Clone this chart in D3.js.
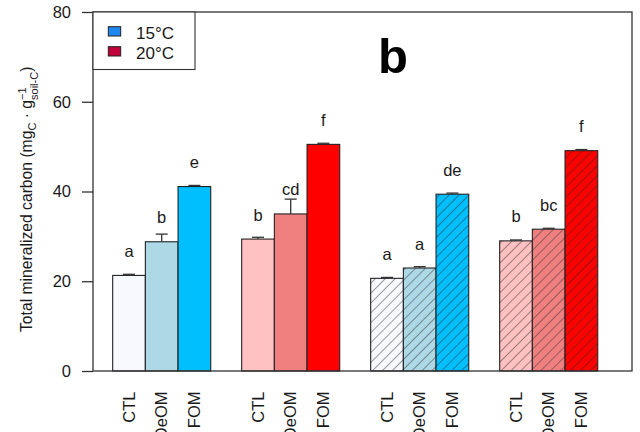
<!DOCTYPE html>
<html><head><meta charset="utf-8">
<script src="https://cdn.jsdelivr.net/npm/d3@7"></script>
<style>body{margin:0;background:#fff}svg{display:block;font-family:"Liberation Sans",Arial,sans-serif}</style>
</head><body><svg id="c" width="640" height="432"></svg>
<script>
// ---- data ----
const groups = ["plain15","plain20","hatch15","hatch20"];
const hatched = [false,false,true,true];
const treatments = ["CTL","DeOM","FOM"];
const means = [[21.3,28.8,41.1],[29.4,35.0,50.5],[20.65,22.95,39.4],[29.0,31.6,49.1]];
const errs  = [[0.25,1.7,0.25],[0.4,3.3,0.25],[0.2,0.3,0.25],[0.2,0.2,0.25]];
const letters = [["a","b","e"],["b","cd","f"],["a","a","de"],["b","bc","f"]];
const barColors = [["#F8F8FF","#ADD8E6","#00BFFF"],["#FFC1C1","#F08080","#FF0000"],["#F8F8FF","#ADD8E6","#00BFFF"],["#FFC1C1","#F08080","#FF0000"]];
const legendLabels = ["15°C","20°C"];
const legendColors = ["#1E88F0","#C4003A"];
const yTicks = [0,20,40,60,80];
const panelLabel = "b";

// ---- layout ----
const svg = d3.select("#c");
const L = 93, R = 632, T = 12, B = 371;
const axisCol = "#333";
const y = d3.scaleLinear().domain([0,80]).range([B,T]);
const xg = d3.scaleBand().domain(groups).range([97.2, 613.2]).paddingInner(0.24).paddingOuter(0.12);
const xb = d3.scaleBand().domain(treatments).range([0, xg.bandwidth()]).padding(0);

const defs = svg.append("defs");
const pat = defs.append("pattern").attr("id","hatch").attr("patternUnits","userSpaceOnUse")
  .attr("width",7).attr("height",7).attr("patternTransform","rotate(45)");
pat.append("line").attr("x1",0).attr("y1",0).attr("x2",0).attr("y2",7)
  .attr("stroke","#2a2a2a").attr("stroke-width",1.1).attr("stroke-opacity",0.85);

// bars
groups.forEach((g,gi)=>{
  const gx = xg(g);
  treatments.forEach((t,ti)=>{
    const x0 = gx + xb(t), w = xb.bandwidth(), v = means[gi][ti];
    svg.append("rect").attr("x",x0).attr("y",y(v)).attr("width",w).attr("height",y(0)-y(v))
      .attr("fill",barColors[gi][ti]);
    if (hatched[gi]) svg.append("rect").attr("x",x0).attr("y",y(v)).attr("width",w).attr("height",y(0)-y(v))
      .attr("fill","url(#hatch)");
    svg.append("rect").attr("x",x0).attr("y",y(v)).attr("width",w).attr("height",y(0)-y(v))
      .attr("fill","none").attr("stroke","#222").attr("stroke-width",1.1);
    // error bar (upper)
    const cx = x0 + w/2, e = errs[gi][ti];
    svg.append("line").attr("x1",cx).attr("x2",cx).attr("y1",y(v)).attr("y2",y(v+e))
      .attr("stroke","#333").attr("stroke-width",1.3);
    svg.append("line").attr("x1",cx-6).attr("x2",cx+6).attr("y1",y(v+e)).attr("y2",y(v+e))
      .attr("stroke","#333").attr("stroke-width",1.3);
    // letter
    svg.append("text").attr("x",cx).attr("y",y(v)-18.5).attr("text-anchor","middle")
      .attr("font-size",16.5).attr("fill","#1a1a1a").text(letters[gi][ti]);
    // x label (rotated)
    svg.append("text").attr("transform",`translate(${cx},391.5) rotate(-90)`)
      .attr("text-anchor","end").attr("dy","0.35em").attr("font-size",16.5).attr("fill","#1a1a1a")
      .text(t);
  });
});

// frame
svg.append("rect").attr("x",L).attr("y",T).attr("width",R-L).attr("height",B-T)
  .attr("fill","none").attr("stroke",axisCol).attr("stroke-width",1.3);

// y axis
const ya = d3.axisLeft(y).tickValues(yTicks).tickSize(11).tickPadding(11);
const yg = svg.append("g").attr("transform",`translate(${L},0)`).call(ya);
yg.select(".domain").remove();
yg.selectAll("line").attr("stroke",axisCol).attr("stroke-width",1.3);
yg.selectAll("text").attr("font-size",16.5).attr("fill","#1a1a1a").attr("font-family","Liberation Sans, Arial, sans-serif");

// y title
const yt = svg.append("text").attr("transform","translate(31.5,332) rotate(-90)")
  .attr("font-size",15.7).attr("fill","#1a1a1a").attr("text-anchor","start");
yt.append("tspan").text("Total mineralized carbon (mg");
yt.append("tspan").attr("font-size",11).attr("dy",4.5).text("C");
yt.append("tspan").attr("dy",-4.5).text(" · g");
const sup = yt.append("tspan").attr("font-size",11).attr("dy",-6).text("\u22121");
const supW = sup.node().getComputedTextLength();
yt.append("tspan").attr("font-size",11).attr("dx",-supW).attr("dy",12).text("soil-C");
yt.append("tspan").attr("dy",-6).text(")");

// legend
svg.append("rect").attr("x",L).attr("y",T).attr("width",102).attr("height",57.5)
  .attr("fill","#fff").attr("stroke",axisCol).attr("stroke-width",1.1);
legendLabels.forEach((lab,i)=>{
  svg.append("rect").attr("x",108.3).attr("y",26.7+i*20).attr("width",12.4).attr("height",9.3)
    .attr("fill",legendColors[i]).attr("stroke","#222").attr("stroke-width",1);
  svg.append("text").attr("x",136).attr("y",39+i*20).attr("font-size",17).attr("fill","#1a1a1a").text(lab);
});

// panel label
svg.append("text").attr("x",393).attr("y",73).attr("text-anchor","middle")
  .attr("font-size",49).attr("font-weight","bold").attr("fill","#000").text(panelLabel);
</script></body></html>
